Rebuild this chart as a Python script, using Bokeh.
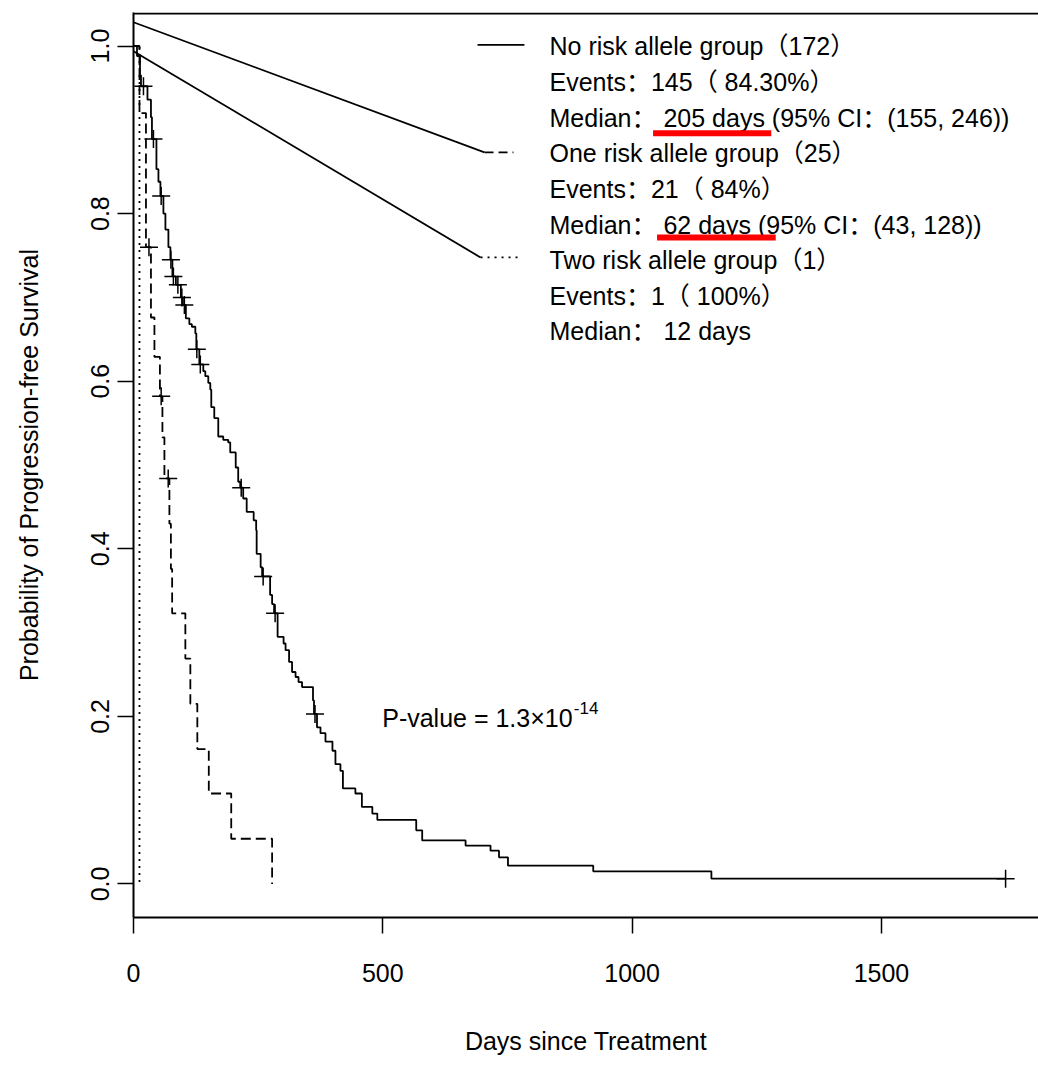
from bokeh.plotting import figure
from bokeh.models import Range1d, FixedTicker
from bokeh.core.properties import value
from bokeh.embed import file_html
from bokeh.resources import INLINE

# ---------------- data ----------------
# No risk allele group (n=172): event times (days) and survival after each event
none_times = [0, 7, 13, 15, 28, 35, 37, 46, 50, 54, 60, 64, 70, 74, 78, 85, 95, 99, 105,
              112, 117, 124, 126, 132, 140, 144, 150, 154, 156, 162, 170, 180, 190, 194,
              205, 210, 214, 220, 227, 241, 246, 247, 255, 258, 274, 278, 282, 289, 301,
              305, 312, 318, 325, 331, 338, 360, 362, 368, 375, 385, 399, 405, 415, 420,
              445, 458, 479, 489, 567, 579, 666, 716, 733, 751, 922, 1159]
none_surv = [1.0, 0.988, 0.965, 0.952, 0.936, 0.915, 0.889, 0.853, 0.838, 0.821, 0.800,
             0.781, 0.760, 0.745, 0.725, 0.715, 0.700, 0.691, 0.675, 0.668, 0.665, 0.657,
             0.638, 0.620, 0.612, 0.606, 0.598, 0.590, 0.569, 0.556, 0.534, 0.530, 0.527,
             0.515, 0.497, 0.480, 0.473, 0.460, 0.444, 0.434, 0.422, 0.394, 0.378, 0.367,
             0.345, 0.334, 0.323, 0.295, 0.287, 0.279, 0.265, 0.253, 0.247, 0.241, 0.235,
             0.219, 0.203, 0.187, 0.180, 0.170, 0.159, 0.143, 0.135, 0.114, 0.108, 0.092,
             0.084, 0.0765, 0.064, 0.052, 0.0458, 0.0398, 0.0318, 0.0219, 0.0151, 0.0063]
none_censor = [20, 40, 55.5, 75, 80, 89, 97, 102, 127, 134, 216, 260, 284, 364, 1749]

# One risk allele group (n=25)
one_times = [0, 12, 25, 35, 42, 53, 58, 62, 72, 75, 77.5, 104, 114, 128, 151, 196, 278]
one_surv = [1.0, 0.92, 0.76, 0.676, 0.629, 0.582, 0.533, 0.484, 0.430, 0.376, 0.323,
            0.269, 0.215, 0.161, 0.108, 0.054, 0.0]
one_censor = [31, 55.5, 69.6]

# Two risk allele group (n=1)
two_times = [0, 12]
two_surv = [1.0, 0.0]

x_ticks = [0, 500, 1000, 1500]
y_ticks = [0.0, 0.2, 0.4, 0.6, 0.8, 1.0]
y_tick_labels = {0.0: "0.0", 0.2: "0.2", 0.4: "0.4", 0.6: "0.6", 0.8: "0.8", 1.0: "1.0"}

legend_rows = [
    "No risk allele group（172）",
    "Events：145（ 84.30%）",
    "Median： 205 days (95% CI：(155, 246))",
    "One risk allele group（25）",
    "Events：21（ 84%）",
    "Median： 62 days (95% CI：(43, 128))",
    "Two risk allele group（1）",
    "Events：1（ 100%）",
    "Median： 12 days",
]
p_value_text = "P-value = 1.3×10"
p_value_exp = "-14"

# ---------------- helpers ----------------
def step_path(times, surv, end):
    xs, ys = [times[0]], [surv[0]]
    for i in range(1, len(times)):
        xs += [times[i], times[i]]
        ys += [surv[i - 1], surv[i]]
    if end > times[-1]:
        xs.append(end)
        ys.append(surv[-1])
    return xs, ys

def surv_at(times, surv, t):
    s = surv[0]
    for ti, si in zip(times, surv):
        if ti <= t:
            s = si
    return s

FONT = "Liberation Sans, Noto Sans CJK SC"
LW = 1.8
X0, X1 = 0, 1815
Y0, Y1 = -0.04, 1.04

p = figure(width=1038, height=1067,
           x_range=Range1d(X0, X1), y_range=Range1d(Y0, Y1),
           output_backend="svg", toolbar_location=None,
           min_border_left=133, min_border_right=0,
           min_border_top=12, min_border_bottom=150)
p.outline_line_color = None
p.xgrid.visible = False
p.ygrid.visible = False
p.background_fill_color = "white"
p.border_fill_color = "white"

# axes
xa = p.xaxis[0]
xa.ticker = FixedTicker(ticks=x_ticks)
ya = p.yaxis[0]
ya.ticker = FixedTicker(ticks=y_ticks)
ya.major_label_overrides = y_tick_labels
for ax in (xa, ya):
    ax.axis_line_width = 2
    ax.axis_line_color = "black"
    ax.major_tick_line_width = 1.5
    ax.major_tick_line_color = "black"
    ax.major_tick_out = 16
    ax.major_tick_in = 0
    ax.minor_tick_line_color = None
    ax.major_label_text_font = FONT
    ax.major_label_text_font_size = "25px"
    ax.major_label_text_color = "black"
    ax.axis_label_text_font = FONT
    ax.axis_label_text_font_size = "25px"
    ax.axis_label_text_font_style = "normal"
    ax.axis_label_text_color = "black"
xa.axis_label = "Days since Treatment"
xa.major_label_standoff = 30
xa.axis_label_standoff = 42
ya.axis_label = "Probability of Progression-free Survival"
ya.major_label_orientation = "vertical"
ya.major_label_standoff = 8
ya.axis_label_standoff = 46

# top border of the box
p.segment(x0=[X0], y0=[Y1 - 0.0012], x1=[X1], y1=[Y1 - 0.0012],
          line_color="black", line_width=2)

# survival curves
xs, ys = step_path(none_times, none_surv, max(none_censor))
p.line(xs, ys, line_color="black", line_width=LW)
xs, ys = step_path(one_times, one_surv, one_times[-1])
p.line(xs, ys, line_color="black", line_width=LW, line_dash="10 5")
xs, ys = step_path(two_times, two_surv, two_times[-1])
p.line(xs, ys, line_color="black", line_width=LW, line_dash="2 5")

# censor marks
p.scatter(none_censor, [surv_at(none_times, none_surv, t) for t in none_censor],
          marker="cross", size=18, line_color="black", line_width=1.5)
p.scatter(one_censor, [surv_at(one_times, one_surv, t) for t in one_censor],
          marker="cross", size=18, line_color="black", line_width=1.5)

# legend (drawn as in the original, including its connector lines)
lx = 834.3
ly0 = 0.9996
dy = 0.04253
p.segment(x0=[690], y0=[1.0014], x1=[784], y1=[1.0014], line_color="black", line_width=LW)
p.segment(x0=[0, 0], y0=[1.0284, 0.9938], x1=[704, 696], y1=[0.8731, 0.7477],
          line_color="black", line_width=LW)
p.segment(x0=[704], y0=[0.8731], x1=[762], y1=[0.8731], line_color="black",
          line_width=LW, line_dash="9 5")
p.segment(x0=[696], y0=[0.7477], x1=[776], y1=[0.7477], line_color="black",
          line_width=LW, line_dash="2 5")
p.text(x=[lx] * len(legend_rows), y=[ly0 - i * dy for i in range(len(legend_rows))],
       text=legend_rows, text_font=value(FONT), text_font_size="25px",
       text_baseline="alphabetic", text_align="left", text_color="black")
# red highlight underlines
p.segment(x0=[1042, 1050], y0=[0.8958, 0.7714], x1=[1279, 1288], y1=[0.8958, 0.7714],
          line_color="#FF0000", line_width=6)

# p-value
p.text(x=[498.8], y=[0.1979], text=[p_value_text], text_font=value(FONT),
       text_font_size="25px", text_baseline="alphabetic", text_color="black")
p.text(x=[883.1], y=[0.2102], text=[p_value_exp], text_font=value(FONT),
       text_font_size="17px", text_baseline="alphabetic", text_color="black")

open("out.html", "w").write(file_html(p, INLINE))
